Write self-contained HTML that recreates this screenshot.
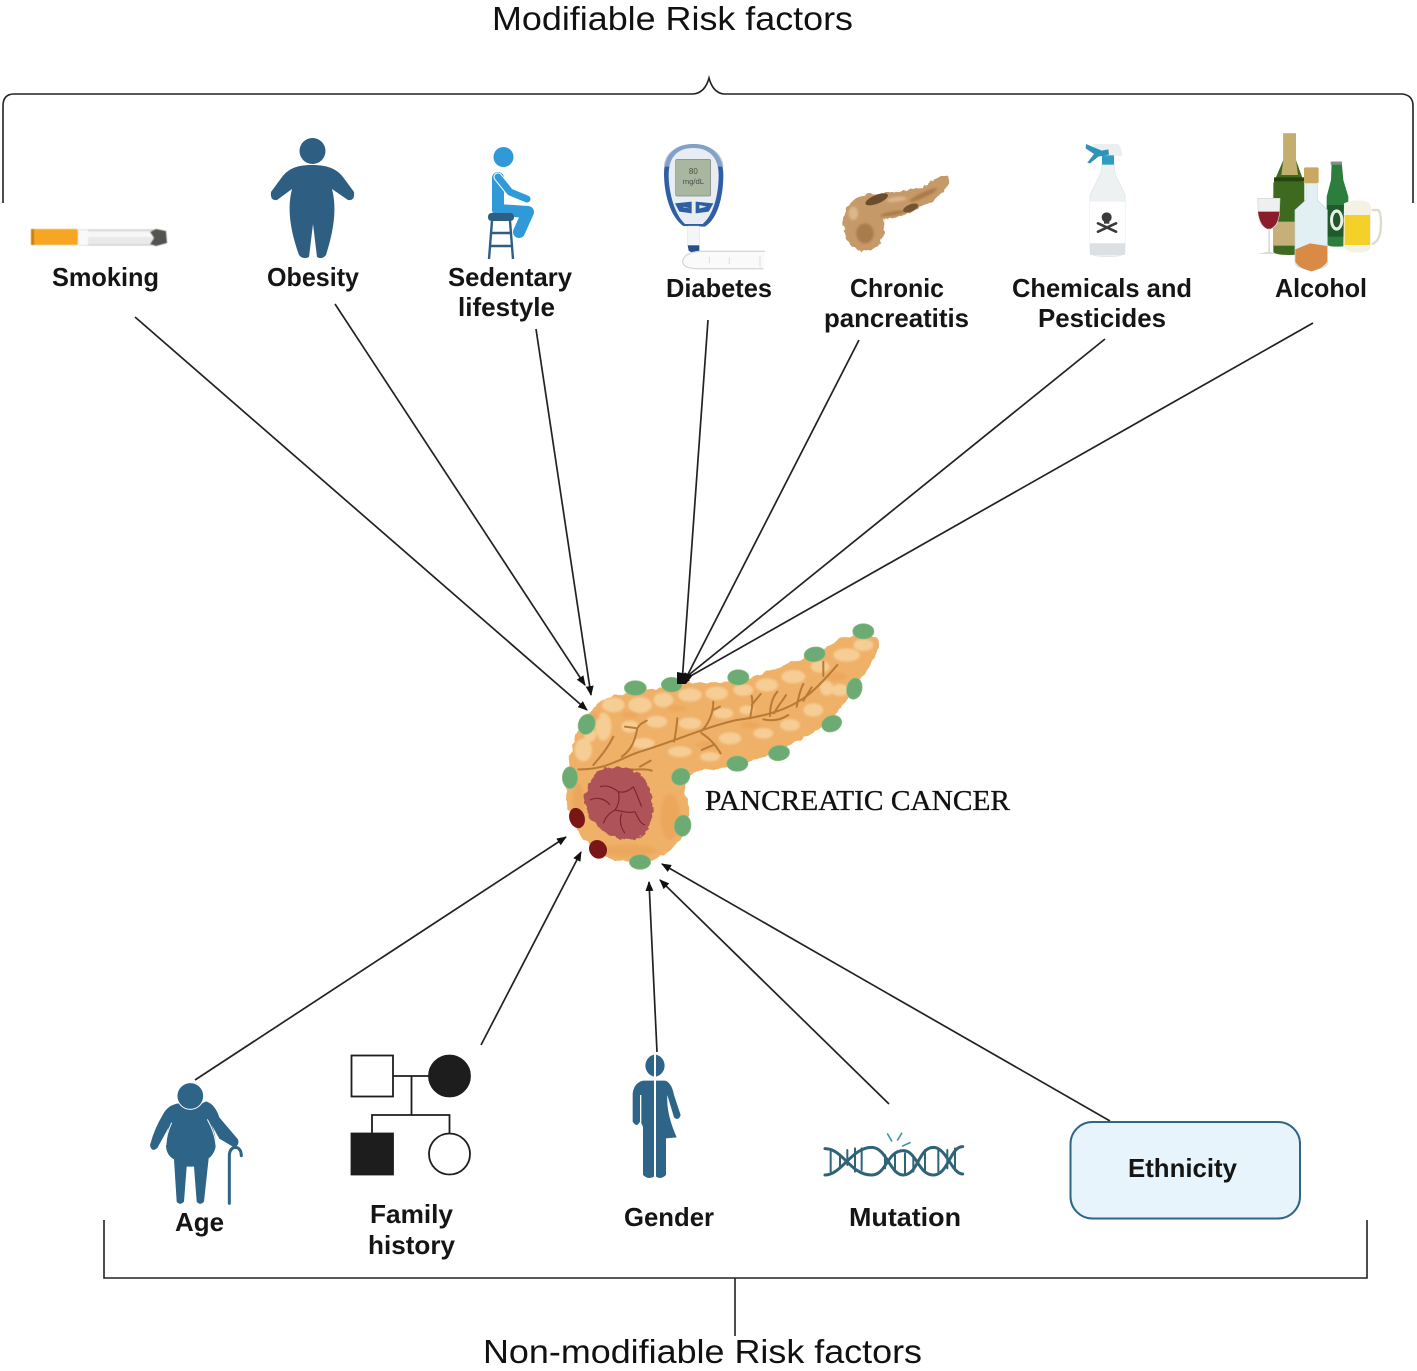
<!DOCTYPE html>
<html lang="en">
<head>
<meta charset="utf-8">
<title>Pancreatic cancer risk factors</title>
<style>
html,body{margin:0;padding:0;background:#fff;width:1417px;height:1371px;overflow:hidden}
svg{display:block}
.l{font-family:"Liberation Sans",sans-serif;font-weight:bold;font-size:26px;fill:#151515}
.t{font-family:"Liberation Sans",sans-serif;font-size:33px;fill:#111}
.p{font-family:"Liberation Serif",serif;font-size:29px;fill:#111;stroke:#111;stroke-width:.35px}
</style>
</head>
<body>
<svg xmlns="http://www.w3.org/2000/svg" width="1417" height="1371" viewBox="0 0 1417 1371">
<defs>
<marker id="a" markerWidth="12" markerHeight="10" refX="9" refY="4" orient="auto" markerUnits="userSpaceOnUse"><path d="M0 0L10 4L0 8Z" fill="#111"/></marker>
<filter id="b" x="-10%" y="-10%" width="120%" height="120%"><feGaussianBlur stdDeviation=".5"/></filter>
<filter id="b2" x="-10%" y="-10%" width="120%" height="120%"><feGaussianBlur stdDeviation="3"/></filter>
<filter id="lump" x="-5%" y="-5%" width="110%" height="110%"><feTurbulence type="fractalNoise" baseFrequency=".035" numOctaves="2" seed="4"/><feDisplacementMap in="SourceGraphic" scale="16" xChannelSelector="R" yChannelSelector="G"/><feGaussianBlur stdDeviation="1"/></filter>
<filter id="lump2" x="-5%" y="-5%" width="110%" height="110%"><feTurbulence type="fractalNoise" baseFrequency=".06" numOctaves="2" seed="9"/><feDisplacementMap in="SourceGraphic" scale="18" xChannelSelector="R" yChannelSelector="G"/><feGaussianBlur stdDeviation="1"/></filter>
</defs>
<rect width="1417" height="1371" fill="#fff"/>

<text class="t" x="492" y="30" textLength="361" lengthAdjust="spacingAndGlyphs">Modifiable Risk factors</text>
<text class="t" x="483" y="1363" textLength="439" lengthAdjust="spacingAndGlyphs">Non-modifiable Risk factors</text>

<g fill="none" stroke="#222" stroke-width="1.6">
<path d="M3 203V106Q3 94 14 94H693Q705 93 709 78Q713 93 724 94H1402Q1413 95 1413 106V203"/>
<path d="M104 1220V1278H1367V1220M735 1278V1336"/>
</g>

<!-- connectors -->
<g stroke="#222" stroke-width="1.7" fill="none">
<line x1="135" y1="317" x2="587" y2="710" marker-end="url(#a)"/>
<line x1="335" y1="304" x2="585" y2="685" marker-end="url(#a)"/>
<line x1="536" y1="329" x2="591" y2="695" marker-end="url(#a)"/>
<line x1="708" y1="320" x2="682" y2="683" marker-end="url(#a)"/>
<line x1="859" y1="340" x2="684" y2="682" marker-end="url(#a)"/>
<line x1="1105" y1="339" x2="680" y2="682" marker-end="url(#a)"/>
<line x1="1313" y1="323" x2="680" y2="682" marker-end="url(#a)"/>
<line x1="195" y1="1080" x2="566" y2="837" marker-end="url(#a)"/>
<line x1="481" y1="1045" x2="581" y2="852" marker-end="url(#a)"/>
<line x1="657" y1="1052" x2="649" y2="882" marker-end="url(#a)"/>
<line x1="889" y1="1104" x2="660" y2="880" marker-end="url(#a)"/>
<line x1="1110" y1="1121" x2="662" y2="864" marker-end="url(#a)"/>
</g>

<!-- pancreas -->
<g transform="translate(550 610) scale(.33333)">
<path d="M62 430C70 380 110 300 160 270C200 245 300 240 400 222C470 212 560 225 640 190C700 165 770 150 840 105C880 75 950 60 980 85C995 120 965 170 925 215C890 270 870 310 810 355C740 400 650 440 560 468C510 480 450 475 425 490C395 510 400 540 415 590C425 640 400 690 350 730C310 755 240 760 180 745C130 720 100 690 75 650C50 610 45 560 50 510C55 470 60 450 62 430Z" fill="#efb068" filter="url(#lump)"/>
<g fill="#f6cd94" filter="url(#b2)">
<ellipse cx="100" cy="420" rx="26" ry="34"/><ellipse cx="160" cy="350" rx="24" ry="42"/><ellipse cx="190" cy="285" rx="34" ry="22"/><ellipse cx="270" cy="285" rx="36" ry="24"/>
<ellipse cx="340" cy="270" rx="30" ry="22"/><ellipse cx="420" cy="255" rx="36" ry="20"/><ellipse cx="500" cy="250" rx="34" ry="20"/><ellipse cx="580" cy="240" rx="30" ry="18"/>
<ellipse cx="650" cy="225" rx="34" ry="20"/><ellipse cx="730" cy="200" rx="36" ry="20"/><ellipse cx="810" cy="170" rx="28" ry="18"/><ellipse cx="890" cy="135" rx="40" ry="20"/>
<ellipse cx="940" cy="105" rx="30" ry="18"/><ellipse cx="240" cy="350" rx="26" ry="18"/><ellipse cx="320" cy="335" rx="32" ry="18"/><ellipse cx="420" cy="340" rx="34" ry="18"/>
<ellipse cx="520" cy="310" rx="30" ry="16"/><ellipse cx="590" cy="300" rx="22" ry="14"/><ellipse cx="540" cy="385" rx="34" ry="18"/><ellipse cx="640" cy="370" rx="30" ry="16"/>
<ellipse cx="720" cy="345" rx="30" ry="18"/><ellipse cx="790" cy="300" rx="30" ry="20"/><ellipse cx="870" cy="240" rx="26" ry="18"/><ellipse cx="830" cy="235" rx="20" ry="22"/>
<ellipse cx="280" cy="400" rx="34" ry="16"/><ellipse cx="390" cy="425" rx="36" ry="16"/><ellipse cx="480" cy="440" rx="30" ry="14"/><ellipse cx="120" cy="375" rx="18" ry="20"/>
</g>
<g fill="#e9a253" opacity=".5" filter="url(#b2)">
<ellipse cx="240" cy="315" rx="24" ry="10"/><ellipse cx="470" cy="405" rx="34" ry="10"/><ellipse cx="380" cy="295" rx="30" ry="9"/><ellipse cx="130" cy="320" rx="20" ry="12"/>
<ellipse cx="600" cy="345" rx="30" ry="10"/><ellipse cx="860" cy="200" rx="30" ry="12"/><ellipse cx="360" cy="620" rx="30" ry="70"/><ellipse cx="230" cy="722" rx="90" ry="18"/><ellipse cx="85" cy="570" rx="18" ry="50"/>
</g>
<g fill="none" stroke="#b87a35" stroke-width="6" stroke-linecap="round" stroke-linejoin="round">
<path d="M85 478C170 480 210 445 270 425C370 395 470 350 560 330C640 320 720 300 780 250C815 220 840 190 862 165"/>
<path d="M130 465C160 430 175 410 190 380M215 440C245 420 255 390 262 355C270 340 280 338 290 332M225 350L262 355M372 395C378 370 380 345 382 325M452 365C475 345 490 310 490 275M490 300L510 290M455 370C480 385 500 410 512 430M455 420L490 405M600 325C605 300 610 280 605 258M605 285L632 252M660 318C660 290 665 265 682 245M672 310C685 285 700 270 708 255M740 290C745 265 750 240 760 222M760 272L785 232M820 198L820 155M640 328C670 335 695 328 715 315M240 478C270 480 290 475 305 482M270 470L302 452"/>
</g>
<path d="M150 480C180 465 230 470 265 490C300 520 315 570 305 620C300 660 280 690 240 688C200 690 160 670 135 640C105 615 95 570 110 540C120 515 130 495 150 480Z" fill="#ae5258" filter="url(#lump2)"/>
<g fill="none" stroke="#7d2630" stroke-width="3.5" stroke-linejoin="round">
<path d="M205 545C210 570 205 585 195 600C220 605 240 610 255 605M205 545C185 530 170 525 150 530M205 545C225 550 240 540 250 530M195 600C175 610 165 625 160 640M215 610C208 630 210 650 225 670M255 605C265 625 270 640 285 645M250 530C262 555 268 575 275 590M120 570C140 560 165 565 180 585"/>
</g>
<g fill="#7b1616">
<ellipse cx="81" cy="624" rx="23" ry="31" transform="rotate(-18 81 624)"/>
<ellipse cx="144" cy="718" rx="26" ry="29" transform="rotate(-35 144 718)"/>
</g>
<g fill="#6dab75" stroke="#8dbd83" stroke-width="2">
<ellipse cx="110" cy="343" rx="25" ry="31" transform="rotate(20 110 343)"/>
<ellipse cx="256" cy="234" rx="33" ry="22"/>
<ellipse cx="365" cy="224" rx="31" ry="22"/>
<ellipse cx="565" cy="202" rx="32" ry="23"/>
<ellipse cx="794" cy="133" rx="32" ry="22" transform="rotate(-10 794 133)"/>
<ellipse cx="940" cy="64" rx="32" ry="23"/>
<ellipse cx="913" cy="236" rx="23" ry="32" transform="rotate(12 913 236)"/>
<ellipse cx="845" cy="341" rx="31" ry="24" transform="rotate(-22 845 341)"/>
<ellipse cx="687" cy="429" rx="32" ry="23" transform="rotate(-8 687 429)"/>
<ellipse cx="562" cy="461" rx="32" ry="23"/>
<ellipse cx="392" cy="500" rx="28" ry="25" transform="rotate(-25 392 500)"/>
<ellipse cx="60" cy="503" rx="23" ry="33"/>
<ellipse cx="398" cy="647" rx="25" ry="32" transform="rotate(8 398 647)"/>
<ellipse cx="270" cy="756" rx="32" ry="22"/>
</g>
</g>
<path d="M677 672L693 675L686 684L677 684Z" fill="#111"/>
<text class="p" x="705" y="810" textLength="305" lengthAdjust="spacingAndGlyphs">PANCREATIC CANCER</text>

<!-- Smoking -->
<g filter="url(#b)">
<rect x="78" y="230" width="76" height="15" fill="#e9e9e9" stroke="#c4c4c4" stroke-width="1"/>
<rect x="78" y="232" width="76" height="5" fill="#f7f7f7"/>
<rect x="31" y="229" width="47" height="16" rx="2" fill="#f6a623"/>
<rect x="31" y="229" width="3" height="16" fill="#c77f18"/>
<rect x="78" y="230" width="10" height="15" fill="#f9f9f9"/>
<path d="M150 232L156 229L166 231L167 243L156 246L150 244L154 238Z" fill="#55524f"/>
</g>
<text class="l" x="52" y="286" textLength="107" lengthAdjust="spacingAndGlyphs">Smoking</text>

<!-- Obesity -->
<g fill="#2e5f82">
<circle cx="312.500" cy="151" r="13"/>
<path d="M312 165C326 165 336 168 343 177L354 192Q355 201 348 200L332 189C337 208 334 230 326 255Q322 260 317 257L313 224L309 257Q303 260 299 255C290 230 287 208 292 189L277 200Q270 201 271 192L282 177C289 168 298 165 312 165Z"/>
</g>
<text class="l" x="267" y="286" textLength="92" lengthAdjust="spacingAndGlyphs">Obesity</text>

<!-- Sedentary -->
<g fill="none" stroke-linecap="round" stroke-linejoin="round">
<circle cx="503.500" cy="157" r="10" fill="#2f9ad7"/>
<path d="M498 178L498 210L528 212L519 232" stroke="#2f9ad7" stroke-width="12"/>
<path d="M498 177L510 192L527 199" stroke="#fff" stroke-width="9"/>
<path d="M498 177L510 192L527 199" stroke="#2f9ad7" stroke-width="7"/>
<rect x="488" y="213" width="26" height="8" rx="3.500" fill="#2e5f82"/>
<path d="M492 221L489 259M510 221L513 259M491 233H511M490 246H512" stroke="#2e5f82" stroke-width="2.400" stroke-linecap="butt"/>
</g>
<text class="l" x="448" y="286" textLength="124" lengthAdjust="spacingAndGlyphs">Sedentary</text>
<text class="l" x="458" y="316" textLength="97" lengthAdjust="spacingAndGlyphs">lifestyle</text>

<!-- Diabetes / meter -->
<g transform="translate(640 120) scale(.33333)">
<path d="M130 318C90 290 72 220 72 160C72 100 110 72 160 72C215 72 250 105 250 165C250 225 235 295 195 320Z" fill="#2f5ea5"/>
<path d="M160 72C215 72 250 105 250 140L72 140C72 100 110 72 160 72Z" fill="#9fb8d2" opacity=".75"/>
<path d="M135 312C105 285 86 220 86 165C86 105 118 84 160 84C205 84 236 110 236 165C236 225 220 285 188 312Z" fill="#e7edf3"/>
<rect x="107" y="118" width="105" height="110" rx="5" fill="#a9b6a0" stroke="#7f8a80" stroke-width="2"/>
<text x="160" y="162" font-family="Liberation Sans,sans-serif" font-size="24" text-anchor="middle" fill="#4a4f49">80</text>
<text x="160" y="192" font-family="Liberation Sans,sans-serif" font-size="23" text-anchor="middle" fill="#4a4f49">mg/dL</text>
<path d="M105 250L155 245V280L118 275Z" fill="#2f5ea5"/><path d="M167 245L220 250L206 275L167 280Z" fill="#2f5ea5"/>
<path d="M150 265L130 260V262Z M178 255L200 260L178 266Z" fill="#dbe6f0"/>
<rect x="143" y="318" width="35" height="58" fill="#f4f5f6" stroke="#c8ccd0"/>
<path d="M143 376H178V392L162 402L146 392Z" fill="#264d8d"/>
<circle cx="162" cy="403" r="7" fill="#c63a3a"/>
<path d="M375 394H180Q130 398 128 425Q130 445 170 446H370" fill="#fafafa" stroke="#d8d8d8" stroke-width="4"/>
<path d="M208 410V430M268 412V432M360 408V440" stroke="#ddd" stroke-width="3"/>
</g>
<text class="l" x="666" y="297" textLength="106" lengthAdjust="spacingAndGlyphs">Diabetes</text>

<!-- Chronic pancreatitis -->
<g transform="translate(640 120) scale(.33333)">
<path d="M610 300C615 255 640 228 690 222C750 215 800 218 850 200C880 180 905 165 922 168C935 190 915 215 880 240C840 270 780 292 728 300C745 345 720 392 672 396C630 385 608 350 610 300Z" fill="#c69a68" filter="url(#lump2)"/>
<g fill="#a97c4a" filter="url(#b2)"><ellipse cx="675" cy="340" rx="26" ry="30"/><ellipse cx="850" cy="225" rx="45" ry="8" transform="rotate(-25 850 225)"/><ellipse cx="760" cy="280" rx="40" ry="6" transform="rotate(-10 760 280)"/></g>
<g fill="#dcb78c" filter="url(#b2)"><ellipse cx="640" cy="280" rx="14" ry="20"/><ellipse cx="770" cy="238" rx="30" ry="7" transform="rotate(-8 770 238)"/></g>
<ellipse cx="710" cy="238" rx="36" ry="13" transform="rotate(-22 710 238)" fill="#6a4d2f"/>
<ellipse cx="812" cy="264" rx="24" ry="11" transform="rotate(-22 812 264)" fill="#755434"/>
</g>
<text class="l" x="850" y="297" textLength="94" lengthAdjust="spacingAndGlyphs">Chronic</text>
<text class="l" x="824" y="327" textLength="145" lengthAdjust="spacingAndGlyphs">pancreatitis</text>

<!-- Chemicals -->
<g transform="translate(1070 120) scale(.33333)">
<path d="M97 130L132 130L135 160L165 225V395Q165 410 112 410Q60 410 60 395V225L92 160Z" fill="#eef1f2" stroke="#dfe3e5" stroke-width="2"/>
<rect x="60" y="245" width="105" height="125" fill="#fff"/>
<rect x="60" y="370" width="105" height="35" fill="#dde0e2"/>
<path d="M70 72H145Q158 90 157 108H75Z" fill="#eceff0"/>
<path d="M48 72L95 92L115 88L117 104L85 110L60 130L52 128L72 102L47 85Z" fill="#2f93b8"/>
<rect x="96" y="106" width="36" height="28" fill="#2f9cc2"/>
<circle cx="110" cy="292" r="15" fill="#3a3a3a"/>
<rect x="102" y="302" width="16" height="9" fill="#3a3a3a"/>
<path d="M84 310L138 335M138 310L84 335" stroke="#3a3a3a" stroke-width="8" stroke-linecap="round"/>
</g>
<text class="l" x="1012" y="297" textLength="180" lengthAdjust="spacingAndGlyphs">Chemicals and</text>
<text class="l" x="1038" y="327" textLength="128" lengthAdjust="spacingAndGlyphs">Pesticides</text>

<!-- Alcohol -->
<g transform="translate(1070 120) scale(.33333)">
<path d="M640 40H678V120L703 190V395Q703 405 660 405Q610 405 610 395V190L640 120Z" fill="#3e6a1f"/>
<path d="M640 40H678V120L684 165H634L640 120Z" fill="#c4ae6e"/>
<rect x="609" y="305" width="66" height="72" fill="#c4b078"/>
<rect x="612" y="172" width="90" height="12" fill="#27440f"/>
<path d="M785 125H815L820 180L835 230V370Q835 380 800 380Q770 380 770 370V230L783 180Z" fill="#2d7d3c"/>
<rect x="782" y="125" width="34" height="9" fill="#8a9088"/>
<rect x="772" y="255" width="50" height="95" fill="#1f5a2d"/>
<ellipse cx="800" cy="300" rx="20" ry="32" fill="#e8efe6"/><ellipse cx="800" cy="300" rx="11" ry="22" fill="#21552d"/>
<path d="M563 235H630L628 285Q622 325 597 328Q570 322 565 285Z" fill="#eef0f0" stroke="#cfd3d3" stroke-width="2"/>
<path d="M564 275H628Q625 320 597 328Q570 322 564 275Z" fill="#8b1c2a"/>
<path d="M595 326H600V395L622 402H562L595 395Z" fill="#d9dcdc"/>
<path d="M822 250Q845 238 880 242Q905 245 903 270V380Q900 398 860 398Q825 396 820 380Z" fill="#f3f2e5"/>
<rect x="824" y="285" width="76" height="90" fill="#f5d029"/>
<path d="M905 270H925Q935 280 932 325Q930 365 905 372" fill="none" stroke="#dcdcc8" stroke-width="7"/>
<rect x="702" y="142" width="44" height="48" rx="5" fill="#c9a860"/>
<path d="M708 190H742V240L772 270V430Q772 445 725 450Q680 445 675 430V270L708 240Z" fill="#e2f0f3" stroke="#c5d9de" stroke-width="2"/>
<path d="M676 388L720 370L772 378V425Q760 445 725 454Q685 445 676 425Z" fill="#d98a45"/>
</g>
<text class="l" x="1275" y="297" textLength="92" lengthAdjust="spacingAndGlyphs">Alcohol</text>

<!-- Age -->
<g transform="translate(130 1040) scale(.33333)">
<path d="M146 190Q180 220 216 190L228 184Q255 192 268 232L324 298Q330 316 312 322L268 296L245 255Q262 295 256 325Q250 345 236 355L222 485Q210 498 200 485L192 380H170L162 485Q150 498 140 485L132 358Q108 345 108 315Q108 290 116 262L82 324Q65 338 60 316Q72 268 98 225Q112 195 146 190Z" fill="#2e6488"/>
<circle cx="181" cy="168" r="40" fill="#2e6488" stroke="#fff" stroke-width="3"/>
<path d="M125 248Q108 285 108 315M232 238Q256 280 258 318" fill="none" stroke="#fff" stroke-width="3"/>
<path d="M298 490V345Q300 322 318 322Q333 325 334 347" fill="none" stroke="#2e6488" stroke-width="9" stroke-linecap="round"/>
</g>
<text class="l" x="175" y="1231" textLength="49" lengthAdjust="spacingAndGlyphs">Age</text>

<!-- Family history -->
<g stroke="#1d1d1d" stroke-width="1.800" fill="none">
<rect x="351.500" y="1055.500" width="41.500" height="41" fill="#fff"/>
<circle cx="449.500" cy="1076" r="20.500" fill="#1d1d1d"/>
<rect x="351.500" y="1133.500" width="41.500" height="41" fill="#1d1d1d"/>
<circle cx="449.500" cy="1154" r="20.500" fill="#fff"/>
<path d="M393 1076H429M411.500 1076V1115M372 1133V1115H449.500V1133"/>
</g>
<text class="l" x="370" y="1223" textLength="83" lengthAdjust="spacingAndGlyphs">Family</text>
<text class="l" x="368" y="1254" textLength="87" lengthAdjust="spacingAndGlyphs">history</text>

<!-- Gender -->
<g transform="translate(610 1040) scale(.33333)" fill="#2e6488">
<path d="M132 44A34 34 0 0 0 132 110Z"/>
<path d="M138 44A34 34 0 0 1 138 110Z"/>
<path d="M132 122V410Q115 420 99 405V260L94 250V165H90V245Q80 265 68 245V160Q72 128 100 122Z"/>
<path d="M138 122H165Q185 128 192 165L212 225Q205 245 192 232L172 165Q168 220 200 292L168 295V405Q152 420 138 410Z"/>
</g>
<text class="l" x="624" y="1226" textLength="90" lengthAdjust="spacingAndGlyphs">Gender</text>

<!-- Mutation -->
<g transform="translate(610 1040) scale(.33333)" fill="none" stroke="#2f6478" stroke-width="9" stroke-linecap="round">
<path d="M645 326C700 326 720 405 785 405C830 405 830 332 880 332C920 332 925 405 970 405C1015 405 1020 320 1058 320"/>
<path d="M645 405C695 405 725 322 785 322C830 322 840 405 880 405C925 405 925 322 970 322C1010 322 1025 402 1058 402"/>
<path d="M662 335V395M690 345V385M712 330V375M735 325V395M755 325V390M825 345V385M855 340V395M885 340V405M910 350V395M945 330V395M985 325V395M1012 330V385M1035 325V390" stroke-width="6"/>
<path d="M833 282L845 303M875 280L863 300M878 318L900 308" stroke="#3a9aa5" stroke-width="5"/>
</g>
<text class="l" x="849" y="1226" textLength="112" lengthAdjust="spacingAndGlyphs">Mutation</text>

<!-- Ethnicity -->
<rect x="1070.500" y="1122" width="229.500" height="96.500" rx="22" fill="#e7f4fc" stroke="#2f6685" stroke-width="2"/>
<text class="l" x="1128" y="1177" textLength="109" lengthAdjust="spacingAndGlyphs">Ethnicity</text>
</svg>
</body>
</html>
